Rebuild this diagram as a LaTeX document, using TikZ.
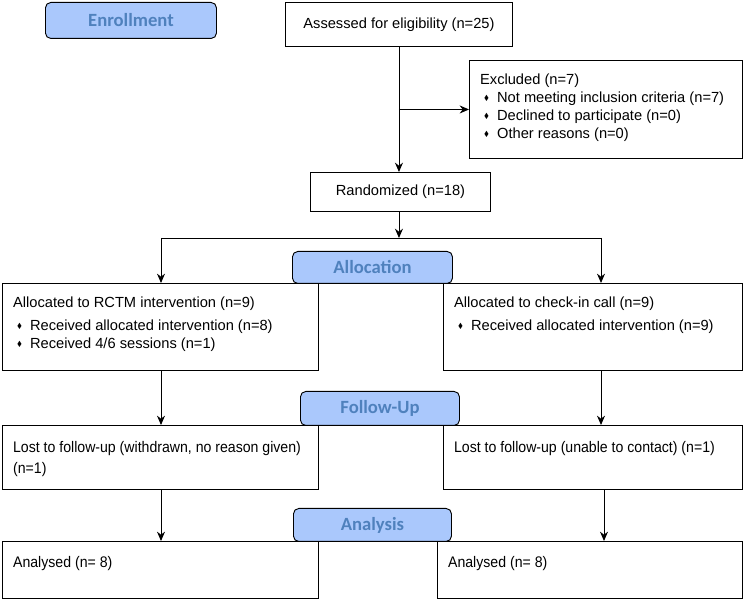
\documentclass[tikz,border=0pt]{standalone}
\usepackage{amssymb}
\usepackage{fontspec}
\setmainfont{Liberation Sans}
\newfontfamily\hdrfont{Carlito}
\usetikzlibrary{arrows.meta}
\definecolor{hdrfill}{RGB}{170,200,252}
\definecolor{hdrtext}{RGB}{79,129,189}
\newcommand{\boxtxt}[3]{\parbox[c][#2][t]{#1}{\raggedright #3}}
\newcommand{\bul}{\hspace*{3pt}\makebox[9.75pt][l]{\raisebox{0.3ex}{\scalebox{0.5}{$\blacklozenge$}}}}
\newcommand{\narrowtxt}[1]{\scalebox{0.92}[1]{\fontsize{11.5}{13.5}\selectfont #1}}

\begin{document}
\begin{tikzpicture}[
    x=0.75pt, y=-0.75pt,
    line width=0.7pt,
    font=\fontsize{11}{13.5}\selectfont,
    box/.style={%
      draw,
      rectangle,
      anchor=north west,
      inner xsep=8pt,
      inner ysep=10pt,
    },
    midbox/.style={%
      draw,
      rectangle,
      anchor=north west,
      inner sep=0pt,
    },
    header/.style={%
      draw,
      rectangle,
      rounded corners=4pt,
      fill=hdrfill,
      text=hdrtext,
      anchor=north west,
      inner sep=0pt,
      font=\hdrfont\bfseries\fontsize{14}{16}\selectfont,
    },
    arr/.style={-{Stealth[length=7pt,width=6pt]}},
  ]

    \useasboundingbox (0,0) rectangle (744,599);

    % stage headers
    \node [header, minimum width=128.25pt, minimum height=27pt] (enroll) at (45,2) {Enrollment};
    \node [header, minimum width=120pt, minimum height=24pt] (allocHdr) at (292,251) {Allocation};
    \node [header, minimum width=119.25pt, minimum height=25.5pt] (followHdr) at (300,391) {Follow-Up};
    \node [header, minimum width=118.5pt, minimum height=24.75pt] (analysisHdr) at (293,508) {Analysis};

    % enrollment
    \node [midbox, minimum width=170.25pt, minimum height=33pt] (assessed) at (285,2) {Assessed for eligibility (n=25)};
    \node [box] (excluded) at (469,60) {\boxtxt{188.75pt}{53.5pt}{Excluded (n=7)\\
      \bul Not meeting inclusion criteria (n=7)\\
      \bul Declined to participate (n=0)\\
      \bul Other reasons (n=0)}};
    \node [midbox, minimum width=135pt, minimum height=29.25pt] (random) at (310,172) {Randomized (n=18)};

    % allocation
    \node [box] (allocL) at (2,283) {\boxtxt{221pt}{45.25pt}{Allocated to RCTM intervention (n=9)\\[4pt]
      \bul Received allocated intervention (n=8)\\
      \bul Received 4/6 sessions (n=1)}};
    \node [box] (allocR) at (443,283) {\boxtxt{208.25pt}{45.25pt}{Allocated to check-in call (n=9)\\[4pt]
      \bul Received allocated intervention (n=9)}};

    % follow-up
    \node [box, inner ysep=12pt] (lostL) at (2,425) {\boxtxt{221pt}{24pt}{\narrowtxt{Lost to follow-up (withdrawn, no reason given)}\\[2pt]
      \narrowtxt{(n=1)}}};
    \node [box, inner ysep=12pt] (lostR) at (443,425) {\boxtxt{208.25pt}{24pt}{\narrowtxt{Lost to follow-up (unable to contact) (n=1)}}};

    % analysis
    \node [box, inner ysep=11pt] (anL) at (2,541) {\boxtxt{221pt}{20.75pt}{\narrowtxt{Analysed (n= 8)}}};
    \node [box, inner ysep=11pt] (anR) at (437,541) {\boxtxt{212.75pt}{20.75pt}{\narrowtxt{Analysed (n= 8)}}};

    \coordinate (splitL) at (161,238);
    \coordinate (splitR) at (601,238);
    \coordinate (lowR) at (604,500);

    \draw [arr] (assessed.south) -- (assessed.south |- random.north);
    \draw [arr] (excluded.west -| assessed.south) -- (excluded.west);
    \draw [arr] (assessed.south |- random.south) -- (assessed.south |- splitL);
    \draw (splitL) -- (splitR);
    \draw [arr] (splitL) -- (splitL |- allocL.north);
    \draw [arr] (splitR) -- (splitR |- allocR.north);
    \draw [arr] (allocL.south -| splitL) -- (lostL.north -| splitL);
    \draw [arr] (allocR.south -| splitR) -- (lostR.north -| splitR);
    \draw [arr] (lostL.south -| splitL) -- (anL.north -| splitL);
    \draw [arr] (lostR.south -| lowR) -- (anR.north -| lowR);
\end{tikzpicture}
\end{document}
